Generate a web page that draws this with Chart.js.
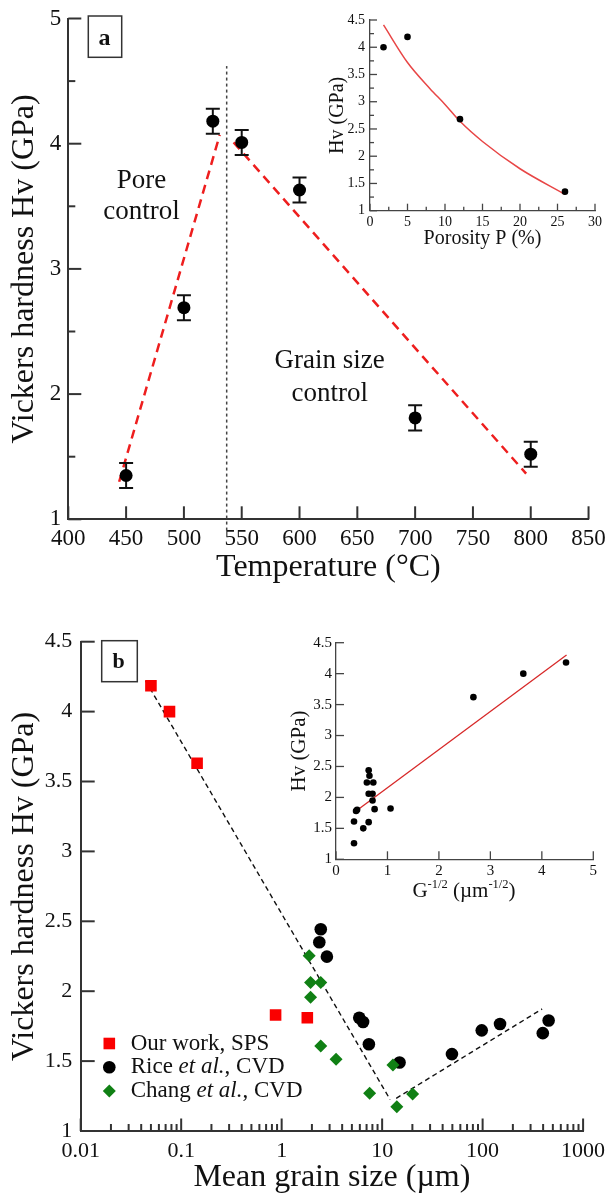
<!DOCTYPE html>
<html>
<head>
<meta charset="utf-8">
<script src="https://cdn.jsdelivr.net/npm/chart.js@4.4.1/dist/chart.umd.min.js"></script>
<style>
  html, body { margin: 0; padding: 0; background: #fff; }
  #wrap { position: relative; width: 614px; height: 1202px; overflow: hidden; }
  canvas { position: absolute; }
</style>
</head>
<body>
<div id="wrap">
  <canvas id="chartA" style="left:0;top:0" width="614" height="600"></canvas>
  <canvas id="insetA" style="left:300px;top:0" width="314" height="260"></canvas>
  <canvas id="chartB" style="left:0;top:600px" width="614" height="602"></canvas>
  <canvas id="insetB" style="left:280px;top:610px" width="334" height="300"></canvas>
</div>
<script>
// ---- panel a : hardness vs sintering temperature ----
const tempC = [450, 500, 525, 550, 600, 700, 800];
const hvTemp = [1.35, 2.69, 4.18, 4.01, 3.63, 1.81, 1.52];
const hvTempErr = [0.1, 0.1, 0.1, 0.1, 0.1, 0.1, 0.1];
const poreFitT = [444, 531];
const poreFitHv = [1.30, 4.07];
const grainFitT = [543, 796];
const grainFitHv = [4.01, 1.365];
const dividerT = [537, 537];
const dividerHv = [0.91, 4.62];
const tempTicks = [400, 450, 500, 550, 600, 650, 700, 750, 800, 850];
const hvTicksA = [1, 2, 3, 4, 5];
const hvMinorA = [1.5, 2.5, 3.5, 4.5];

// inset a : hardness vs porosity
const porosity = [1.8, 5, 12, 26];
const hvPorosity = [4.0, 4.19, 2.68, 1.35];
const porFitP = [1.8, 5, 8, 10, 12, 15, 20, 26];
const porFitHv = [4.41, 3.72, 3.24, 2.95, 2.64, 2.27, 1.77, 1.30];
const porTicks = [0, 5, 10, 15, 20, 25, 30];
const porMinor = [2.5, 7.5, 12.5, 17.5, 22.5, 27.5];
const hvTicksInset = [1, 1.5, 2, 2.5, 3, 3.5, 4, 4.5];
const hvMinorInsetA = [1.25, 1.75, 2.25, 2.75, 3.25, 3.75, 4.25];

// ---- panel b : hardness vs mean grain size ----
const spsSize = [0.05, 0.0765, 0.144, 0.87, 1.8];
const spsHv = [4.185, 4.0, 3.63, 1.83, 1.81];
const riceSize = [2.45, 2.37, 2.82, 5.92, 6.46, 7.38, 14.9, 49.5, 98, 149, 397, 454];
const riceHv = [2.443, 2.35, 2.247, 1.81, 1.78, 1.62, 1.49, 1.55, 1.72, 1.765, 1.70, 1.79];
const changSize = [1.88, 1.94, 2.45, 1.94, 2.45, 3.48, 7.51, 12.8, 14.0, 20.1];
const changHv = [2.254, 2.063, 2.063, 1.956, 1.608, 1.513, 1.27, 1.472, 1.174, 1.265];
const hallPetchSize = [0.0443, 12];
const hallPetchHv = [4.22, 1.225];
const inverseSize = [13.8, 391];
const inverseHv = [1.234, 1.873];
const sizeTicks = [0.01, 0.1, 1, 10, 100, 1000];
const hvTicksB = [1, 1.5, 2, 2.5, 3, 3.5, 4, 4.5];

// inset b : Hall-Petch plot
const gInvSqrt = [0.35, 0.35, 0.39, 0.41, 0.53, 0.635, 0.635, 0.65, 0.60, 0.725, 0.635, 0.71, 0.71, 0.75, 1.06, 2.67, 3.64, 4.47];
const hvGrain = [1.26, 1.61, 1.78, 1.80, 1.50, 1.60, 2.44, 2.35, 2.24, 2.24, 2.06, 2.06, 1.95, 1.81, 1.82, 3.62, 4.0, 4.18];
const hpFitX = [0.37, 4.48];
const hpFitHv = [1.77, 4.30];
const gTicks = [0, 1, 2, 3, 4, 5];

const SERIF = "'Liberation Serif', 'Times New Roman', serif";
const INK = '#111';
const AXIS = '#333';
const RED = 'rgb(238,30,30)';
const GREEN = 'rgb(16,128,20)';

Chart.defaults.font.family = SERIF;
Chart.defaults.color = INK;

const pts = (xs, ys) => xs.map((x, i) => ({x: x, y: ys[i]}));

// ticks pointing into the plot area (the library only draws them outward)
const inwardTicks = {
  id: 'inwardTicks',
  afterDatasetsDraw(chart, args, o) {
    const ctx = chart.ctx;
    ctx.save();
    ctx.strokeStyle = o.color;
    ctx.lineWidth = o.width;
    ['x', 'y'].forEach(id => {
      const s = chart.scales[id], t = o[id];
      if (!t) return;
      const mark = (v, len) => {
        const p = s.getPixelForValue(v);
        ctx.beginPath();
        if (id === 'x') { ctx.moveTo(p, s.top); ctx.lineTo(p, s.top - len); }
        else { ctx.moveTo(s.right, p); ctx.lineTo(s.right + len, p); }
        ctx.stroke();
      };
      t.major.forEach(v => mark(v, t.len));
      (t.minor || []).forEach(v => mark(v, t.minorLen));
    });
    ctx.restore();
  }
};

// panel letter box + free text notes
const panelText = {
  id: 'panelText',
  afterDatasetsDraw(chart, args, o) {
    const ctx = chart.ctx;
    ctx.save();
    if (o.box) {
      const b = o.box;
      ctx.strokeStyle = AXIS;
      ctx.lineWidth = 1.5;
      ctx.strokeRect(b.x, b.y, b.w, b.h);
      ctx.fillStyle = INK;
      ctx.font = 'bold ' + b.size + 'px ' + SERIF;
      ctx.textAlign = 'center';
      ctx.textBaseline = 'alphabetic';
      ctx.fillText(b.label, b.tx, b.ty);
    }
    (o.notes || []).forEach(n => {
      ctx.fillStyle = INK;
      ctx.font = n.size + 'px ' + SERIF;
      ctx.textAlign = 'center';
      ctx.textBaseline = 'alphabetic';
      ctx.fillText(n.text, chart.scales.x.getPixelForValue(n.x), chart.scales.y.getPixelForValue(n.y));
    });
    ctx.restore();
  }
};

// legend inside panel b, with italic "et al."
const innerLegend = {
  id: 'innerLegend',
  afterDatasetsDraw(chart, args, o) {
    if (!o.items) return;
    const ctx = chart.ctx;
    ctx.save();
    o.items.forEach((it, k) => {
      const ds = chart.data.datasets[it.dataset];
      const y = o.y + k * o.gap;
      ctx.fillStyle = ds.pointBackgroundColor;
      Chart.helpers.drawPoint(ctx, {pointStyle: ds.pointStyle, radius: ds.pointRadius, rotation: 0, borderWidth: 0}, o.x, y);
      let x = o.textX;
      ctx.fillStyle = INK;
      ctx.textAlign = 'left';
      ctx.textBaseline = 'middle';
      it.parts.forEach(p => {
        ctx.font = (p.italic ? 'italic ' : '') + o.size + 'px ' + SERIF;
        ctx.fillText(p.text, x, y);
        x += ctx.measureText(p.text).width;
      });
    });
    ctx.restore();
  }
};

// axis title with superscripts (inset b)
const supTitle = {
  id: 'supTitle',
  afterDraw(chart, args, o) {
    if (!o.parts) return;
    const ctx = chart.ctx;
    ctx.save();
    ctx.fillStyle = INK;
    ctx.textBaseline = 'alphabetic';
    ctx.textAlign = 'left';
    const fontOf = p => (p.sup ? o.supSize : o.size) + 'px ' + SERIF;
    let total = 0;
    o.parts.forEach(p => { ctx.font = fontOf(p); total += ctx.measureText(p.text).width; });
    let x = o.cx - total / 2;
    o.parts.forEach(p => {
      ctx.font = fontOf(p);
      ctx.fillText(p.text, x, p.sup ? o.y - o.rise : o.y);
      x += ctx.measureText(p.text).width;
    });
    ctx.restore();
  }
};

function axis(cfg) {
  const a = {
    type: cfg.type || 'linear',
    min: cfg.min, max: cfg.max,
    afterBuildTicks: s => { s.ticks = cfg.ticks.map(v => ({value: v})); },
    grid: {display: false, drawTicks: false},
    border: {display: true, color: cfg.axisColor || AXIS, width: cfg.axisWidth || 2},
    ticks: {
      padding: cfg.tickPad, autoSkip: false, maxRotation: 0, color: INK,
      font: {size: cfg.tickSize, lineHeight: 1},
      callback: v => String(v)
    },
    title: cfg.title ? {
      display: true, text: cfg.title, color: INK,
      font: {size: cfg.titleSize, lineHeight: 1},
      padding: cfg.titlePad
    } : {display: false}
  };
  if (cfg.width !== undefined) a.afterFit = s => { s.width = cfg.width; };
  if (cfg.height !== undefined) a.afterFit = s => { s.height = cfg.height; };
  return a;
}

const base = {responsive: false, animation: false, events: []};

// ---------- panel a ----------
const errBars = tempC.flatMap((t, i) => [
  {x: t, y: hvTemp[i] - hvTempErr[i]},
  {x: t, y: hvTemp[i] + hvTempErr[i]},
  {x: t, y: null}
]);

new Chart(document.getElementById('chartA'), {
  type: 'scatter',
  data: {
    datasets: [
      {data: pts(tempC, hvTemp), pointRadius: 6.5, pointBackgroundColor: '#000', pointBorderWidth: 0},
      {data: errBars, showLine: true, spanGaps: false, borderColor: INK, borderWidth: 2,
        pointStyle: 'line', pointRadius: 7, pointBorderWidth: 2, pointBorderColor: INK},
      {data: pts(poreFitT, poreFitHv), showLine: true, pointRadius: 0, borderColor: RED, borderWidth: 2.5, borderDash: [9, 6]},
      {data: pts(grainFitT, grainFitHv), showLine: true, pointRadius: 0, borderColor: RED, borderWidth: 2.5, borderDash: [9, 6]},
      {data: pts(dividerT, dividerHv), showLine: true, pointRadius: 0, borderColor: '#444', borderWidth: 1.5, borderDash: [3, 3], clip: false}
    ]
  },
  options: Object.assign({}, base, {
    layout: {padding: {left: 0, right: 22.3, top: 15, bottom: 0}},
    plugins: {
      legend: {display: false}, tooltip: {enabled: false},
      inwardTicks: {color: AXIS, width: 2,
        x: {major: tempTicks, len: 13},
        y: {major: hvTicksA, len: 13, minor: hvMinorA, minorLen: 7}},
      panelText: {
        box: {label: 'a', x: 88.3, y: 16, w: 33.4, h: 41.3, size: 24, tx: 104.5, ty: 44.7},
        notes: [
          {text: 'Pore', x: 463.4, y: 3.643, size: 27},
          {text: 'control', x: 463.4, y: 3.40, size: 27},
          {text: 'Grain size', x: 626.1, y: 2.205, size: 27},
          {text: 'control', x: 626.1, y: 1.946, size: 27}
        ]
      }
    },
    scales: {
      x: axis({min: 400, max: 850, ticks: tempTicks, tickPad: 8.2, tickSize: 23, height: 80.7,
        title: 'Temperature (°C)', titleSize: 32, titlePad: {top: 0, bottom: 16}}),
      y: axis({min: 1, max: 5, ticks: hvTicksA, tickPad: 7, tickSize: 23, width: 68.3,
        title: 'Vickers hardness Hv (GPa)', titleSize: 32, titlePad: {top: 8.3, bottom: 0}})
    }
  }),
  plugins: [inwardTicks, panelText]
});

// ---------- inset a ----------
new Chart(document.getElementById('insetA'), {
  type: 'scatter',
  data: {
    datasets: [
      {data: pts(porosity, hvPorosity), pointRadius: 3.3, pointBackgroundColor: '#000', pointBorderWidth: 0},
      {data: pts(porFitP, porFitHv), showLine: true, pointRadius: 0, borderColor: 'rgb(232,70,70)', borderWidth: 1.5,
        cubicInterpolationMode: 'monotone'}
    ]
  },
  options: Object.assign({}, base, {
    layout: {padding: {left: 0, right: 19, top: 20, bottom: 0}},
    plugins: {
      legend: {display: false}, tooltip: {enabled: false},
      inwardTicks: {color: '#444', width: 1.3,
        x: {major: porTicks, len: 7, minor: porMinor, minorLen: 4},
        y: {major: hvTicksInset, len: 7, minor: hvMinorInsetA, minorLen: 4}}
    },
    scales: {
      x: axis({min: 0, max: 30, ticks: porTicks, tickPad: 4.3, tickSize: 14, height: 49.3, axisColor: '#444', axisWidth: 1.3,
        title: 'Porosity P (%)', titleSize: 20, titlePad: {top: 0, bottom: 11.6}}),
      y: axis({min: 1, max: 4.5, ticks: hvTicksInset, tickPad: 5, tickSize: 14, width: 70, axisColor: '#444', axisWidth: 1.3,
        title: 'Hv (GPa)', titleSize: 20, titlePad: {top: 27.3, bottom: 0}})
    }
  }),
  plugins: [inwardTicks]
});

// ---------- panel b ----------
const sizeMinor = sizeTicks.slice(0, -1).flatMap(d => [2, 3, 4, 5, 6, 7, 8, 9].map(m => m * d));

new Chart(document.getElementById('chartB'), {
  type: 'scatter',
  data: {
    datasets: [
      {label: 'Chang', data: pts(changSize, changHv), pointStyle: 'rectRot', pointRadius: 6.5, pointBackgroundColor: GREEN, pointBorderWidth: 0},
      {label: 'Rice', data: pts(riceSize, riceHv), pointStyle: 'circle', pointRadius: 6.3, pointBackgroundColor: '#000', pointBorderWidth: 0},
      {label: 'SPS', data: pts(spsSize, spsHv), pointStyle: 'rect', pointRadius: 8.2, pointBackgroundColor: 'rgb(250,0,0)', pointBorderWidth: 0},
      {data: pts(hallPetchSize, hallPetchHv), showLine: true, pointRadius: 0, borderColor: INK, borderWidth: 1.4, borderDash: [5, 3.5]},
      {data: pts(inverseSize, inverseHv), showLine: true, pointRadius: 0, borderColor: INK, borderWidth: 1.4, borderDash: [5, 3.5]}
    ]
  },
  options: Object.assign({}, base, {
    layout: {padding: {left: 0, right: 22.3, top: 41.7, bottom: 0}},
    plugins: {
      legend: {display: false}, tooltip: {enabled: false},
      inwardTicks: {color: AXIS, width: 2,
        x: {major: sizeTicks, len: 12.5, minor: sizeMinor, minorLen: 7},
        y: {major: hvTicksB, len: 14}},
      panelText: {box: {label: 'b', x: 101.7, y: 40.7, w: 35.6, h: 41, size: 22, tx: 118.5, ty: 68.3}},
      innerLegend: {
        x: 109.3, y: 443.5, gap: 23.7, textX: 130.7, size: 23,
        items: [
          {dataset: 2, parts: [{text: 'Our work, SPS'}]},
          {dataset: 1, parts: [{text: 'Rice '}, {text: 'et al.', italic: true}, {text: ', CVD'}]},
          {dataset: 0, parts: [{text: 'Chang '}, {text: 'et al.', italic: true}, {text: ', CVD'}]}
        ]
      }
    },
    scales: {
      x: axis({type: 'logarithmic', min: 0.01, max: 1000, ticks: sizeTicks, tickPad: 8.9, tickSize: 22, height: 71,
        title: 'Mean grain size (µm)', titleSize: 32, titlePad: {top: 0, bottom: 8.5}}),
      y: axis({min: 1, max: 4.5, ticks: hvTicksB, tickPad: 8.5, tickSize: 22, width: 80.7,
        title: 'Vickers hardness Hv (GPa)', titleSize: 32, titlePad: {top: 8.2, bottom: 0}})
    }
  }),
  plugins: [inwardTicks, panelText, innerLegend]
});

// ---------- inset b ----------
new Chart(document.getElementById('insetB'), {
  type: 'scatter',
  data: {
    datasets: [
      {data: pts(gInvSqrt, hvGrain), pointRadius: 3.3, pointBackgroundColor: '#000', pointBorderWidth: 0},
      {data: pts(hpFitX, hpFitHv), showLine: true, pointRadius: 0, borderColor: 'rgb(215,40,40)', borderWidth: 1.3}
    ]
  },
  options: Object.assign({}, base, {
    layout: {padding: {left: 0, right: 20.7, top: 32.7, bottom: 0}},
    plugins: {
      legend: {display: false}, tooltip: {enabled: false},
      inwardTicks: {color: '#444', width: 1.3,
        x: {major: gTicks, len: 8},
        y: {major: hvTicksInset, len: 8}},
      supTitle: {
        cx: 184, y: 286.5, size: 21, supSize: 12.5, rise: 9,
        parts: [{text: 'G'}, {text: '-1/2', sup: true}, {text: ' (µm'}, {text: '-1/2', sup: true}, {text: ')'}]
      }
    },
    scales: {
      x: axis({min: 0, max: 5, ticks: gTicks, tickPad: 4.2, tickSize: 15, height: 50.7, axisColor: '#444', axisWidth: 1.3}),
      y: axis({min: 1, max: 4.5, ticks: hvTicksInset, tickPad: 4, tickSize: 15, width: 56, axisColor: '#444', axisWidth: 1.3,
        title: 'Hv (GPa)', titleSize: 21, titlePad: {top: 9.1, bottom: 0}})
    }
  }),
  plugins: [inwardTicks, supTitle]
});
</script>
</body>
</html>
